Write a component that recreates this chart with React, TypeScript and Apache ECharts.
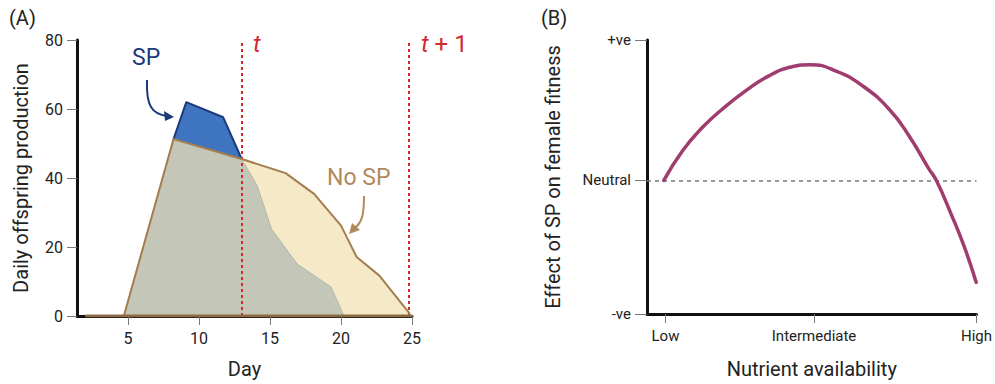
import React, { useEffect, useRef } from "react";
import * as echarts from "echarts";

// Panel A data (Day vs daily offspring production)
const noSpDays = [2, 4.7, 8.2, 13, 16.1, 18.1, 20, 21.1, 22.7, 24.85];
const noSpValues = [0, 0, 51.3, 45.5, 41.4, 35.4, 26.2, 17.1, 11.7, 0.6];
const spDays = [2, 4.7, 8.2, 9.1, 11.7, 13, 14.1, 15.1, 16.9, 19.3, 20.2];
const spValues = [0, 0, 51.3, 62, 57.6, 45.5, 37.7, 25.2, 15.1, 8.4, 0];
const baselineDays = [2, 25];
const markerDays = [13, 24.8];
const dayTicks = [5, 10, 15, 20, 25];

// Panel B data (nutrient availability vs effect of SP)
const nutrientX = [5.1, 10.8, 16.8, 22.8, 29.8, 36.7, 43.7, 49.6, 57.6, 65.6, 73.5, 79.5, 85.5, 87.8, 92.4, 96.4, 99.9];
const effectY = [0.0, 0.222, 0.395, 0.532, 0.667, 0.778, 0.848, 0.865, 0.815, 0.704, 0.532, 0.334, 0.088, 0.0, -0.258, -0.504, -0.763];
const nutrientTicks = [5.6, 50.7, 100];
const nutrientLabels = ["Low", "Intermediate", "High"];
const effectTicks = [-1, 0, 1.05];
const effectLabels = ["-ve", "Neutral", "+ve"];

const FONT = "Roboto";
const BLUE = "#3f74c1";
const DARKBLUE = "#1b3a7a";
const GRAY = "#c4c6b8";
const BEIGE = "#f5e9c7";
const BROWN = "#a47d4e";
const BROWN_TEXT = "#b08a5c";
const RED = "#d22b2b";
const PINK = "#a03c6e";

const pairs = (xs: number[], ys: number[]) => xs.map((x, i) => [x, ys[i]]);

export default function App() {
  const ref = useRef<HTMLDivElement>(null);
  useEffect(() => {
    if (!ref.current) return;
    const chart = echarts.init(ref.current, null, { renderer: "svg" });
    const noSp = pairs(noSpDays, noSpValues);
    const sp = pairs(spDays, spValues);
    const overlap = [
      ...noSp.filter((p) => p[0] <= 13),
      ...sp.filter((p) => p[0] > 13),
    ];
    const spTop = sp.filter((p) => p[0] >= 8.2 && p[0] <= 13);
    const baseline = baselineDays.map((d) => [d, 0]);

    const axisLineStyle = { color: "#111", width: 3 };
    const tickStyle = { color: "#777", width: 1 };
    const labelStyle = { color: "#222", fontFamily: FONT, fontSize: 16 };
    const nameStyle = { color: "#222", fontFamily: FONT, fontSize: 20 };

    chart.setOption({
      animation: false,
      grid: [
        { left: 77, top: 40, width: 335, height: 277 },
        { left: 647, top: 40, width: 335, height: 277 },
      ],
      xAxis: [
        {
          type: "value",
          gridIndex: 0,
          min: 1.4,
          max: 25,
          name: "Day",
          nameLocation: "middle",
          nameGap: 43,
          nameTextStyle: nameStyle,
          axisLine: { show: true, onZero: false, lineStyle: axisLineStyle },
          axisTick: { show: true, length: 9, lineStyle: tickStyle, customValues: dayTicks },
          axisLabel: { ...labelStyle, margin: 14, customValues: dayTicks },
          splitLine: { show: false },
        },
        {
          type: "value",
          gridIndex: 1,
          min: 0,
          max: 100,
          name: "Nutrient availability",
          nameLocation: "middle",
          nameGap: 45,
          nameTextStyle: nameStyle,
          axisLine: { show: true, onZero: false, lineStyle: axisLineStyle },
          axisTick: { show: true, length: 9, lineStyle: tickStyle, customValues: nutrientTicks },
          axisLabel: {
            ...labelStyle,
            fontSize: 15,
            margin: 14,
            customValues: nutrientTicks,
            formatter: (v: number) => {
              const i = nutrientTicks.findIndex((t) => Math.abs(t - v) < 1e-6);
              return i >= 0 ? nutrientLabels[i] : "";
            },
          },
          splitLine: { show: false },
        },
      ],
      yAxis: [
        {
          type: "value",
          gridIndex: 0,
          min: 0,
          max: 80,
          interval: 20,
          name: "Daily offspring production",
          nameLocation: "middle",
          nameGap: 46,
          nameTextStyle: nameStyle,
          axisLine: { show: true, onZero: false, lineStyle: axisLineStyle },
          axisTick: { show: true, length: 10, lineStyle: tickStyle },
          axisLabel: { ...labelStyle, margin: 14 },
          splitLine: { show: false },
        },
        {
          type: "value",
          gridIndex: 1,
          min: -1,
          max: 1.05,
          name: "Effect of SP on female fitness",
          nameLocation: "middle",
          nameGap: 84,
          nameTextStyle: nameStyle,
          axisLine: { show: true, onZero: false, lineStyle: axisLineStyle },
          axisTick: { show: true, length: 12, lineStyle: tickStyle, customValues: effectTicks },
          axisLabel: {
            ...labelStyle,
            fontSize: 15,
            margin: 16,
            customValues: effectTicks,
            formatter: (v: number) => {
              const i = effectTicks.findIndex((t) => Math.abs(t - v) < 1e-6);
              return i >= 0 ? effectLabels[i] : "";
            },
          },
          splitLine: { show: false },
        },
      ],
      series: [
        {
          name: "No SP area",
          type: "line",
          xAxisIndex: 0,
          yAxisIndex: 0,
          data: noSp,
          symbol: "none",
          lineStyle: { width: 0 },
          areaStyle: { color: BEIGE, opacity: 1 },
          z: 1,
        },
        {
          name: "SP area",
          type: "line",
          xAxisIndex: 0,
          yAxisIndex: 0,
          data: sp,
          symbol: "none",
          lineStyle: { width: 0 },
          areaStyle: { color: BLUE, opacity: 1 },
          z: 2,
        },
        {
          name: "Overlap",
          type: "line",
          xAxisIndex: 0,
          yAxisIndex: 0,
          data: overlap,
          symbol: "none",
          lineStyle: { width: 1, color: "#b9bbad" },
          areaStyle: { color: GRAY, opacity: 1 },
          z: 3,
        },
        {
          name: "SP outline",
          type: "line",
          xAxisIndex: 0,
          yAxisIndex: 0,
          data: spTop,
          symbol: "none",
          lineStyle: { width: 2, color: DARKBLUE },
          z: 4,
        },
        {
          name: "No SP",
          type: "line",
          xAxisIndex: 0,
          yAxisIndex: 0,
          data: noSp,
          symbol: "none",
          lineStyle: { width: 2, color: BROWN },
          z: 5,
        },
        {
          name: "Baseline",
          type: "line",
          xAxisIndex: 0,
          yAxisIndex: 0,
          data: baseline,
          symbol: "none",
          lineStyle: { width: 3, color: "#8a6a45" },
          z: 6,
          markLine: {
            silent: true,
            symbol: "none",
            label: { show: false },
            lineStyle: { color: RED, width: 2, type: [3, 3] },
            data: markerDays.map((d) => ({ xAxis: d })),
          },
        },
        {
          name: "Effect",
          type: "line",
          xAxisIndex: 1,
          yAxisIndex: 1,
          data: pairs(nutrientX, effectY),
          smooth: 0.5,
          symbol: "none",
          lineStyle: { width: 3.5, color: PINK, cap: "round" },
          z: 5,
          markLine: {
            silent: true,
            symbol: "none",
            label: { show: false },
            lineStyle: { color: "#777", width: 1.5, type: [4, 4] },
            data: [{ yAxis: 0 }],
          },
        },
      ],
      graphic: [
        { type: "text", left: 9, top: 8, style: { text: "(A)", font: `20px ${FONT}`, fill: "#222" } },
        { type: "text", left: 541, top: 8, style: { text: "(B)", font: `20px ${FONT}`, fill: "#222" } },
        { type: "text", left: 132, top: 46, style: { text: "SP", font: `23px ${FONT}`, fill: DARKBLUE } },
        { type: "text", left: 327, top: 166, style: { text: "No SP", font: `23px ${FONT}`, fill: BROWN_TEXT } },
        {
          type: "text",
          left: 253,
          top: 32,
          style: { text: "t", font: `italic 24px ${FONT}`, fill: RED },
        },
        {
          type: "text",
          left: 421,
          top: 32,
          style: {
            text: "{i|t}{n| + 1}",
            rich: {
              i: { fontStyle: "italic", fontSize: 24, fontFamily: FONT, fill: RED },
              n: { fontSize: 24, fontFamily: FONT, fill: RED },
            },
          },
        },
        {
          type: "bezierCurve",
          shape: { x1: 147, y1: 80, x2: 167, y2: 116, cpx1: 146, cpy1: 106, cpx2: 152, cpy2: 114 },
          style: { stroke: DARKBLUE, lineWidth: 2, fill: "none" },
        },
        {
          type: "polygon",
          shape: { points: [[174, 117], [164, 111], [165, 121]] },
          style: { fill: DARKBLUE },
        },
        {
          type: "bezierCurve",
          shape: { x1: 364, y1: 196, x2: 355, y2: 228, cpx1: 364, cpy1: 215, cpx2: 362, cpy2: 222 },
          style: { stroke: BROWN_TEXT, lineWidth: 2, fill: "none" },
        },
        {
          type: "polygon",
          shape: { points: [[349, 234], [352, 223], [360, 230]] },
          style: { fill: BROWN_TEXT },
        },
      ],
    });
    return () => chart.dispose();
  }, []);
  return (
    <div
      ref={ref}
      style={{ position: "fixed", left: 0, top: 0, width: 995, height: 384, background: "#fff" }}
    />
  );
}
